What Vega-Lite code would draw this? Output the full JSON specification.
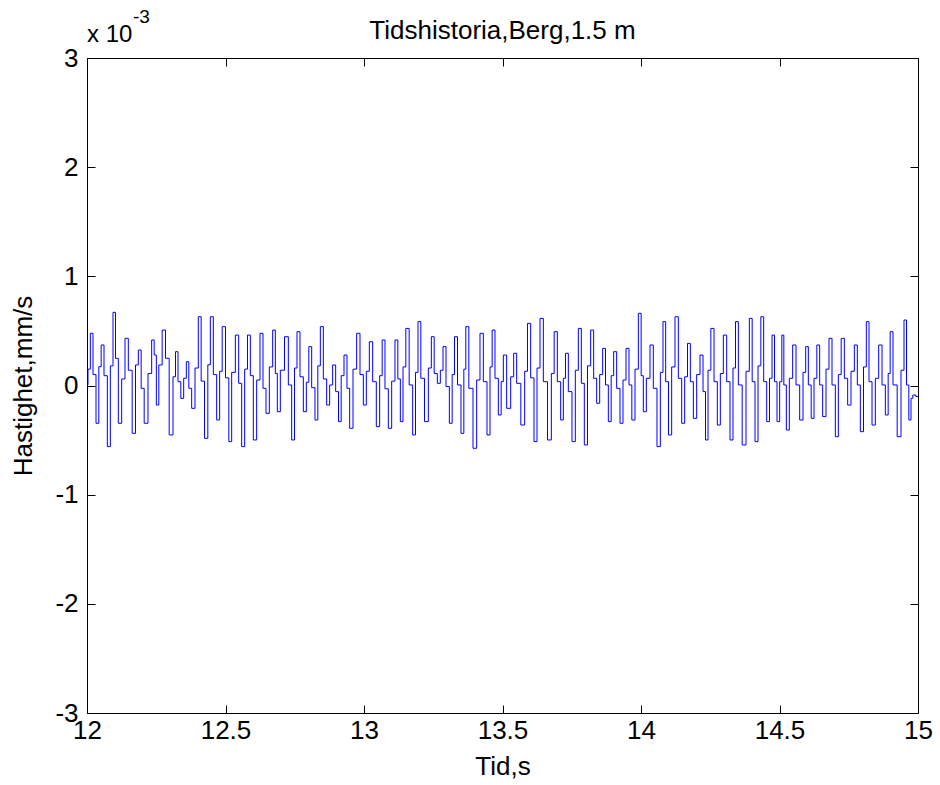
{
  "$schema": "https://vega.github.io/schema/vega-lite/v6.json",
  "width": 831,
  "height": 655,
  "autosize": {"type": "none"},
  "padding": {"left": 87, "top": 58, "right": 22, "bottom": 72},
  "background": "white",
  "title": {"text": "Tidshistoria,Berg,1.5 m", "fontSize": 26, "fontWeight": "normal", "font": "Liberation Sans", "color": "black", "offset": 0, "dy": 36},
  "config": {
    "font": "Liberation Sans",
    "view": {"stroke": "black", "strokeWidth": 1},
    "axis": {"domain": false, "grid": false, "zindex": 1, "tickColor": "black", "tickWidth": 1, "tickSize": -8, "labelFontSize": 26, "labelColor": "black", "labelFont": "Liberation Sans", "titleFontSize": 26, "titleFontWeight": "normal", "titleColor": "black", "titleFont": "Liberation Sans", "labelFlush": false, "labelOverlap": false}
  },
  "data": {"values": [
    {"t":12.0000,"v":0.005},{"t":12.0072,"v":0.15},{"t":12.0168,"v":0.478},{"t":12.0265,"v":0.10},{"t":12.0385,"v":-0.346},{"t":12.0469,"v":0.172},{"t":12.0554,"v":0.371},{"t":12.0674,"v":0.09},{"t":12.0794,"v":-0.560},{"t":12.0891,"v":0.18},{"t":12.0987,"v":0.670},{"t":12.1071,"v":0.249},{"t":12.1191,"v":-0.346},{"t":12.1312,"v":0.06},{"t":12.1432,"v":0.432},{"t":12.1552,"v":0.14},{"t":12.1709,"v":-0.438},{"t":12.1793,"v":0.188},{"t":12.1913,"v":0.325},{"t":12.1998,"v":-0.026},{"t":12.2130,"v":-0.346},{"t":12.2274,"v":0.11},{"t":12.2395,"v":0.417},{"t":12.2455,"v":0.279},{"t":12.2551,"v":-0.179},{"t":12.2635,"v":0.188},{"t":12.2792,"v":0.508},{"t":12.2876,"v":0.249},{"t":12.3057,"v":-0.453},{"t":12.3153,"v":0.08},{"t":12.3237,"v":0.310},{"t":12.3333,"v":0.035},{"t":12.3442,"v":-0.118},{"t":12.3538,"v":0.066},{"t":12.3634,"v":0.218},{"t":12.3718,"v":-0.026},{"t":12.3839,"v":-0.209},{"t":12.3959,"v":0.16},{"t":12.4079,"v":0.630},{"t":12.4164,"v":0.04},{"t":12.4320,"v":-0.484},{"t":12.4404,"v":0.19},{"t":12.4501,"v":0.630},{"t":12.4621,"v":0.10},{"t":12.4741,"v":-0.316},{"t":12.4838,"v":0.13},{"t":12.4922,"v":0.539},{"t":12.5078,"v":0.07},{"t":12.5162,"v":-0.514},{"t":12.5283,"v":0.12},{"t":12.5427,"v":0.462},{"t":12.5523,"v":0.02},{"t":12.5644,"v":-0.560},{"t":12.5740,"v":0.15},{"t":12.5848,"v":0.462},{"t":12.5945,"v":0.09},{"t":12.6065,"v":-0.499},{"t":12.6185,"v":0.05},{"t":12.6306,"v":0.478},{"t":12.6402,"v":-0.026},{"t":12.6522,"v":-0.255},{"t":12.6643,"v":0.17},{"t":12.6763,"v":0.508},{"t":12.6835,"v":0.11},{"t":12.6907,"v":-0.240},{"t":12.7052,"v":0.14},{"t":12.7208,"v":0.447},{"t":12.7329,"v":0.005},{"t":12.7449,"v":-0.499},{"t":12.7533,"v":0.16},{"t":12.7629,"v":0.493},{"t":12.7750,"v":0.08},{"t":12.7870,"v":-0.240},{"t":12.7966,"v":0.03},{"t":12.8051,"v":0.356},{"t":12.8171,"v":-0.02},{"t":12.8291,"v":-0.316},{"t":12.8375,"v":0.18},{"t":12.8472,"v":0.539},{"t":12.8592,"v":0.06},{"t":12.8712,"v":-0.179},{"t":12.8809,"v":0.005},{"t":12.8929,"v":0.188},{"t":12.9025,"v":-0.056},{"t":12.9134,"v":-0.331},{"t":12.9218,"v":0.09},{"t":12.9338,"v":0.279},{"t":12.9434,"v":-0.026},{"t":12.9531,"v":-0.392},{"t":12.9675,"v":0.15},{"t":12.9795,"v":0.478},{"t":12.9916,"v":0.10},
    {"t":13.0036,"v":-0.179},{"t":13.0132,"v":0.13},{"t":13.0253,"v":0.401},{"t":13.0373,"v":0.035},{"t":13.0517,"v":-0.377},{"t":13.0614,"v":0.09},{"t":13.0698,"v":0.417},{"t":13.0818,"v":-0.03},{"t":13.0939,"v":-0.392},{"t":13.1059,"v":0.04},{"t":13.1179,"v":0.417},{"t":13.1264,"v":0.06},{"t":13.1360,"v":-0.331},{"t":13.1456,"v":0.17},{"t":13.1564,"v":0.523},{"t":13.1697,"v":0.005},{"t":13.1817,"v":-0.453},{"t":13.1901,"v":0.12},{"t":13.1998,"v":0.585},{"t":13.2106,"v":0.066},{"t":13.2262,"v":-0.331},{"t":13.2383,"v":0.16},{"t":13.2479,"v":0.447},{"t":13.2588,"v":0.11},{"t":13.2708,"v":0.020},{"t":13.2804,"v":0.14},{"t":13.2900,"v":0.356},{"t":13.3021,"v":-0.01},{"t":13.3141,"v":-0.346},{"t":13.3225,"v":0.10},{"t":13.3310,"v":0.447},{"t":13.3442,"v":0.005},{"t":13.3562,"v":-0.438},{"t":13.3646,"v":0.15},{"t":13.3706,"v":0.539},{"t":13.3863,"v":-0.026},{"t":13.4007,"v":-0.575},{"t":13.4127,"v":0.05},{"t":13.4248,"v":0.478},{"t":13.4368,"v":0.035},{"t":13.4513,"v":-0.453},{"t":13.4585,"v":0.17},{"t":13.4669,"v":0.508},{"t":13.4789,"v":0.066},{"t":13.4910,"v":-0.270},{"t":13.4994,"v":0.035},{"t":13.5066,"v":0.279},{"t":13.5235,"v":-0.209},{"t":13.5355,"v":0.08},{"t":13.5451,"v":0.295},{"t":13.5572,"v":0.02},{"t":13.5752,"v":-0.362},{"t":13.5848,"v":0.13},{"t":13.5957,"v":0.569},{"t":13.6077,"v":0.07},{"t":13.6197,"v":-0.514},{"t":13.6294,"v":0.16},{"t":13.6414,"v":0.615},{"t":13.6534,"v":0.035},{"t":13.6715,"v":-0.499},{"t":13.6811,"v":0.11},{"t":13.6919,"v":0.493},{"t":13.7040,"v":0.035},{"t":13.7160,"v":-0.316},{"t":13.7232,"v":0.066},{"t":13.7317,"v":0.295},{"t":13.7437,"v":-0.056},{"t":13.7581,"v":-0.514},{"t":13.7677,"v":0.14},{"t":13.7798,"v":0.523},{"t":13.7894,"v":0.02},{"t":13.8014,"v":-0.545},{"t":13.8123,"v":0.18},{"t":13.8243,"v":0.508},{"t":13.8339,"v":0.066},{"t":13.8460,"v":-0.163},{"t":13.8556,"v":0.10},{"t":13.8676,"v":0.340},{"t":13.8761,"v":0.005},{"t":13.8881,"v":-0.331},{"t":13.8965,"v":0.09},{"t":13.9061,"v":0.310},{"t":13.9182,"v":-0.026},{"t":13.9302,"v":-0.346},{"t":13.9398,"v":0.05},{"t":13.9519,"v":0.340},{"t":13.9615,"v":0.005},{"t":13.9723,"v":-0.316},{"t":13.9844,"v":0.15},{"t":13.9964,"v":0.661},
    {"t":14.0048,"v":0.09},{"t":14.0120,"v":-0.240},{"t":14.0265,"v":0.066},{"t":14.0385,"v":0.371},{"t":14.0505,"v":-0.026},{"t":14.0650,"v":-0.560},{"t":14.0746,"v":0.12},{"t":14.0842,"v":0.585},{"t":14.0939,"v":0.035},{"t":14.1047,"v":-0.453},{"t":14.1167,"v":0.17},{"t":14.1288,"v":0.630},{"t":14.1408,"v":0.066},{"t":14.1529,"v":-0.346},{"t":14.1625,"v":0.08},{"t":14.1733,"v":0.386},{"t":14.1830,"v":0.035},{"t":14.1950,"v":-0.301},{"t":14.2070,"v":0.10},{"t":14.2191,"v":0.279},{"t":14.2287,"v":-0.056},{"t":14.2371,"v":-0.499},{"t":14.2467,"v":0.14},{"t":14.2576,"v":0.523},{"t":14.2696,"v":0.035},{"t":14.2816,"v":-0.362},{"t":14.2912,"v":0.11},{"t":14.3033,"v":0.462},{"t":14.3153,"v":0.035},{"t":14.3273,"v":-0.499},{"t":14.3370,"v":0.16},{"t":14.3454,"v":0.585},{"t":14.3574,"v":0.005},{"t":14.3731,"v":-0.545},{"t":14.3851,"v":0.13},{"t":14.3971,"v":0.615},{"t":14.4056,"v":0.035},{"t":14.4176,"v":-0.514},{"t":14.4272,"v":0.18},{"t":14.4381,"v":0.630},{"t":14.4477,"v":0.035},{"t":14.4597,"v":-0.331},{"t":14.4682,"v":0.066},{"t":14.4778,"v":0.462},{"t":14.4862,"v":0.035},{"t":14.4958,"v":-0.331},{"t":14.5054,"v":0.035},{"t":14.5114,"v":0.462},{"t":14.5199,"v":0.005},{"t":14.5295,"v":-0.408},{"t":14.5415,"v":0.066},{"t":14.5536,"v":0.371},{"t":14.5656,"v":0.005},{"t":14.5801,"v":-0.316},{"t":14.5897,"v":0.12},{"t":14.5993,"v":0.356},{"t":14.6089,"v":0.005},{"t":14.6198,"v":-0.301},{"t":14.6294,"v":0.066},{"t":14.6402,"v":0.371},{"t":14.6498,"v":0.005},{"t":14.6619,"v":-0.285},{"t":14.6739,"v":0.15},{"t":14.6835,"v":0.432},{"t":14.6956,"v":0.005},{"t":14.7076,"v":-0.469},{"t":14.7172,"v":0.10},{"t":14.7281,"v":0.432},{"t":14.7401,"v":0.066},{"t":14.7521,"v":-0.179},{"t":14.7642,"v":0.13},{"t":14.7762,"v":0.371},{"t":14.7858,"v":0.005},{"t":14.7978,"v":-0.423},{"t":14.8087,"v":0.17},{"t":14.8183,"v":0.585},{"t":14.8280,"v":0.035},{"t":14.8400,"v":-0.362},{"t":14.8520,"v":0.066},{"t":14.8641,"v":0.371},{"t":14.8761,"v":0.005},{"t":14.8881,"v":-0.270},{"t":14.8965,"v":0.11},{"t":14.9025,"v":0.493},{"t":14.9170,"v":0.005},{"t":14.9326,"v":-0.469},{"t":14.9447,"v":0.14},{"t":14.9543,"v":0.600},{"t":14.9627,"v":0.005},{"t":14.9711,"v":-0.316},{"t":14.9783,"v":-0.118},{"t":14.9843,"v":-0.087},{"t":15.0000,"v":-0.100}
  ]},
  "layer": [
    {
      "mark": {"type": "line", "color": "#0000ff", "strokeWidth": 1, "clip": true, "interpolate": "step"},
      "encoding": {
        "x": {"field": "t", "type": "quantitative", "scale": {"domain": [12, 15], "nice": false, "zero": false},
              "axis": {"orient": "bottom", "values": [12, 12.5, 13, 13.5, 14, 14.5, 15], "labelExpr": "toString(datum.value)", "labelPadding": 12, "title": "Tid,s", "titlePadding": 10}},
        "y": {"field": "v", "type": "quantitative", "scale": {"domain": [-3, 3], "nice": false, "zero": false},
              "axis": {"orient": "left", "values": [-3, -2, -1, 0, 1, 2, 3], "labelExpr": "toString(datum.value)", "labelPadding": 17, "title": "Hastighet,mm/s", "titlePadding": 18}}
      }
    },
    {
      "data": {"values": [{}]},
      "mark": {"type": "text", "text": "x 10", "fontSize": 24, "align": "left", "baseline": "alphabetic", "dx": 0, "dy": -16, "color": "black", "font": "Liberation Sans"},
      "encoding": {
        "x": {"datum": 12, "type": "quantitative", "axis": {"orient": "top", "values": [12, 12.5, 13, 13.5, 14, 14.5, 15], "labels": false, "title": null}},
        "y": {"datum": 3, "type": "quantitative", "axis": {"orient": "right", "values": [-3, -2, -1, 0, 1, 2, 3], "labels": false, "title": null}}
      }
    },
    {
      "data": {"values": [{}]},
      "mark": {"type": "text", "text": "-3", "fontSize": 19, "align": "left", "baseline": "alphabetic", "dx": 46, "dy": -35, "color": "black", "font": "Liberation Sans"},
      "encoding": {
        "x": {"datum": 12, "type": "quantitative", "axis": null},
        "y": {"datum": 3, "type": "quantitative", "axis": null}
      }
    }
  ],
  "resolve": {"axis": {"x": "independent", "y": "independent"}}
}
